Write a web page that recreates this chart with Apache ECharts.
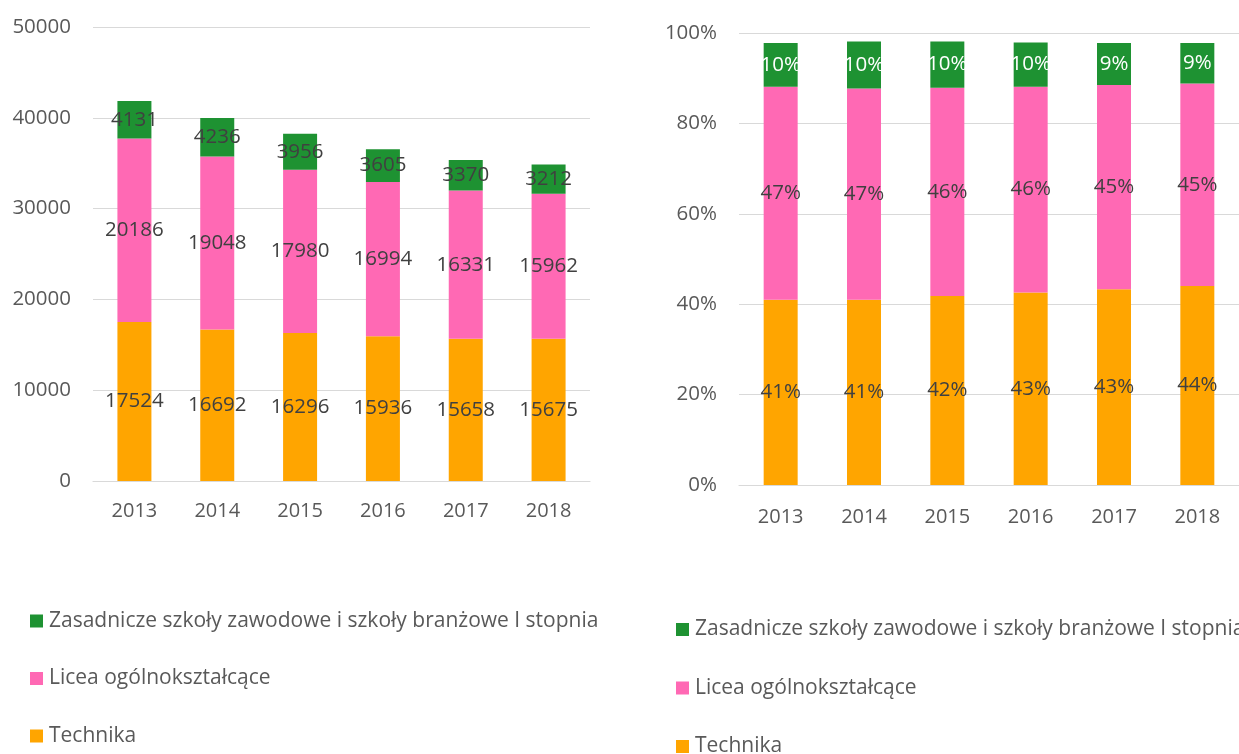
<!DOCTYPE html>
<html>
<head>
<meta charset="utf-8">
<script src="https://cdn.jsdelivr.net/npm/echarts@6/dist/echarts.min.js"></script>
<style>
  html, body { margin: 0; padding: 0; background: #fff; }
  #chart { width: 1239px; height: 754px; }
</style>
</head>
<body>
<div id="chart"></div>
<script>
const years = ['2013', '2014', '2015', '2016', '2017', '2018']

// counts (left chart)
const technika = [17524, 16692, 16296, 15936, 15658, 15675]
const licea = [20186, 19048, 17980, 16994, 16331, 15962]
const zasadnicze = [4131, 4236, 3956, 3605, 3370, 3212]

// shares in % (right chart)
const technikaPct = [41.0, 41.0, 41.8, 42.6, 43.3, 44.0]
const liceaPct = [47.1, 46.7, 46.1, 45.5, 45.2, 44.8]
const zasadniczePct = [9.7, 10.4, 10.2, 9.8, 9.3, 9.0]

const names = [
  'Zasadnicze szkoły zawodowe i szkoły branżowe I stopnia',
  'Licea ogólnokształcące',
  'Technika',
]
const colors = { green: '#1e9232', pink: '#ff69b4', orange: '#ffa500' }

const FONT = 'Open Sans'
const axisLabelColor = '#595959'
const dataLabelColor = '#404040'
const gridColor = '#d9d9d9'

const chart = echarts.init(document.getElementById('chart'))

function xAxis(gridIndex, margin) {
  return {
    type: 'category',
    gridIndex,
    data: years,
    axisTick: { show: false },
    axisLine: { lineStyle: { color: gridColor, width: 1.2 } },
    axisLabel: { color: axisLabelColor, fontFamily: FONT, fontSize: 20, margin },
  }
}

function yAxis(gridIndex, max, interval, fmt) {
  return {
    type: 'value',
    gridIndex,
    min: 0,
    max,
    interval,
    axisLine: { show: false },
    axisTick: { show: false },
    splitLine: { lineStyle: { color: gridColor, width: 1.2 } },
    axisLabel: { color: axisLabelColor, fontFamily: FONT, fontSize: 20.5, margin: 22, formatter: fmt },
  }
}

function barSeries(name, data, color, axisIdx, labelColor, fmt) {
  return {
    name,
    type: 'bar',
    stack: 's' + axisIdx,
    xAxisIndex: axisIdx,
    yAxisIndex: axisIdx,
    data,
    barWidth: 34,
    itemStyle: { color },
    label: {
      show: true,
      position: 'inside',
      color: labelColor,
      fontFamily: FONT,
      fontSize: 20.5,
      formatter: fmt,
    },
  }
}

const pct = (p) => Math.round(p.value) + '%'

function legend(left, top, gap) {
  return {
    orient: 'vertical',
    left,
    top,
    height: 200,
    padding: 0,
    data: names,
    icon: 'rect',
    itemWidth: 13,
    itemHeight: 13,
    itemGap: gap,
    selectedMode: false,
    textStyle: { color: axisLabelColor, fontFamily: FONT, fontSize: 21, lineHeight: 24, padding: [0, 0, 0, 1] },
  }
}

chart.setOption({
  animation: false,
  grid: [
    { left: 93, width: 497, top: 27, bottom: 273 },
    { left: 739, width: 512, top: 33, bottom: 269 },
  ],
  xAxis: [xAxis(0, 20), xAxis(1, 22)],
  yAxis: [
    yAxis(0, 50000, 10000, (v) => String(v)),
    yAxis(1, 100, 20, '{value}%'),
  ],
  legend: [legend(30, 609, 33.5), legend(676, 617.5, 34.5)],
  series: [
    barSeries(names[2], technika, colors.orange, 0, dataLabelColor),
    barSeries(names[1], licea, colors.pink, 0, dataLabelColor),
    barSeries(names[0], zasadnicze, colors.green, 0, dataLabelColor),
    barSeries(names[2], technikaPct, colors.orange, 1, dataLabelColor, pct),
    barSeries(names[1], liceaPct, colors.pink, 1, dataLabelColor, pct),
    barSeries(names[0], zasadniczePct, colors.green, 1, '#ffffff', pct),
  ],
})
</script>
</body>
</html>
